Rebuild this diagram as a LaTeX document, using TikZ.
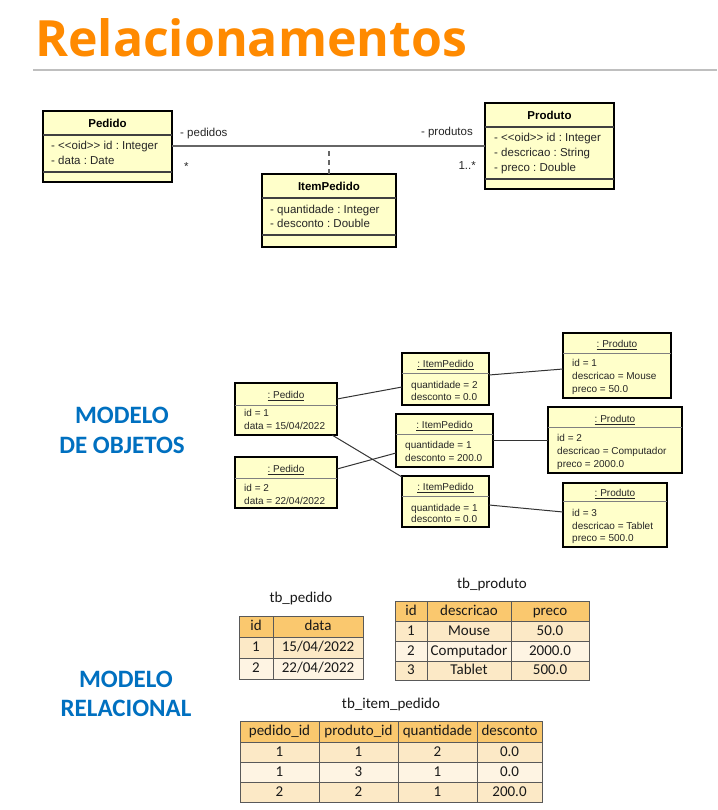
\documentclass[tikz,border=0pt]{standalone}
\usepackage{fontspec}
\setmainfont{Liberation Sans}
\newfontfamily\titlefont{Open Sans}
\newfontfamily\calfont{Carlito}
\usetikzlibrary{calc}
\definecolor{orangeT}{HTML}{FF8A00}
\definecolor{blueT}{HTML}{0070C0}
\definecolor{umlfill}{HTML}{FFFFCA}
\definecolor{thdr}{HTML}{FAC86E}
\definecolor{trowA}{HTML}{FCE9C6}
\definecolor{trowB}{HTML}{FEF4E3}
\newcommand{\ltlt}{<\kern0pt<}
\newcommand{\gtgt}{>\kern0pt>}
\newcommand{\tcell}[7]{\node[tcell,#6,minimum width={#4-#2},minimum height={#5-#3},anchor=north west] (#1) at (#2,#3) {#7};}
\frenchspacing
\begin{document}
\begin{tikzpicture}[x=1pt,y=-1pt,
 cbox/.style={draw=black, line width=2pt, fill=umlfill, inner sep=0pt, outer sep=0pt},
 obox/.style={draw=black, line width=1.8pt, fill=umlfill, inner sep=0pt, outer sep=0pt},
 chdr/.style={font=\fontsize{11.5}{13}\selectfont\bfseries, inner sep=0pt, anchor=base},
 cattr/.style={font=\fontsize{11.5}{13}\selectfont, inner sep=0pt, anchor=base west, text=black!85},
 ohdr/.style={font=\fontsize{10}{12}\selectfont, inner sep=0pt, anchor=base, text=black!85},
 oattr/.style={font=\fontsize{10}{12}\selectfont, inner sep=0pt, anchor=base west, text=black!85},
 csep/.style={draw=black!75, line width=1.2pt},
 osep/.style={draw=black!50, line width=0.8pt},
 assoc/.style={draw=black!60, line width=1.2pt},
 link/.style={draw=black!80, line width=1pt},
 mtxt/.style={font=\calfont\bfseries\fontsize{25}{30}\selectfont, text=blueT, anchor=base, inner sep=0pt},
 ttitle/.style={font=\calfont\fontsize{15}{18}\selectfont, text=black!90, anchor=base, inner sep=0pt},
 tcell/.style={draw=black!65, line width=0.7pt, inner sep=0pt, outer sep=0pt, font=\calfont\fontsize{15}{18}\selectfont, text height=9.5pt, text depth=1pt, text=black!90},
 th/.style={fill=thdr},
 ta/.style={fill=trowA},
 tb/.style={fill=trowB}
]
\fill[white] (0,0) rectangle (717,810);
\useasboundingbox (0,0) rectangle (717,810);

% title
\node[font=\titlefont\bfseries\fontsize{50}{60}\selectfont, text=orangeT, anchor=base west, inner sep=0pt] (title) at (35,57) {Relacionamentos};
\draw[line width=1.5pt, draw=black!25] (33,70) -- (717,70);

% ---------- class diagram ----------
\node[cbox, minimum width=129, minimum height=71, anchor=north west] (pedido) at (43,111) {};
\node[chdr] (pedidoH) at (107.5,128) {Pedido};
\draw[csep] (43,135) -- (172,135);
\node[cattr] (pedidoA1) at (51,150) {- \ltlt oid\gtgt{} id : Integer};
\node[cattr] (pedidoA2) at (51,165) {- data : Date};
\draw[csep] (43,172) -- (172,172);

\node[cbox, minimum width=129, minimum height=86, anchor=north west] (produto) at (485,103) {};
\node[chdr] (produtoH) at (549.5,120) {Produto};
\draw[csep] (485,127) -- (614,127);
\node[cattr] (produtoA1) at (494,142) {- \ltlt oid\gtgt{} id : Integer};
\node[cattr] (produtoA2) at (494,157) {- descricao : String};
\node[cattr] (produtoA3) at (494,172) {- preco : Double};
\draw[csep] (485,179) -- (614,179);

\node[cbox, minimum width=134, minimum height=73, anchor=north west] (itempedido) at (262,174) {};
\node[chdr] (itempedidoH) at (329,191) {ItemPedido};
\draw[csep] (262,198) -- (396,198);
\node[cattr] (itempedidoA1) at (270,214) {- quantidade : Integer};
\node[cattr] (itempedidoA2) at (270,228) {- desconto : Double};
\draw[csep] (262,235) -- (396,235);

\coordinate (a1) at ($(pedido.north east)+(0,35)$);
\draw[assoc] (a1) -- (a1 -| produto.west);
\draw[assoc, dash pattern=on 5pt off 4pt] (itempedido.north) -- (itempedido.north |- a1);
\node[cattr] (lpedidos) at (180,137) {- pedidos};
\node[cattr] (lstar) at (184,171) {*};
\node[cattr, anchor=base east] (lprodutos) at (473,136) {- produtos};
\node[cattr, anchor=base east] (lmult) at (476,170) {1..*};

% ---------- object diagram ----------
\node[mtxt] (m1) at (122,423) {MODELO};
\node[mtxt] (m2) at (122,453) {DE OBJETOS};

\node[obox, minimum width=102, minimum height=52, anchor=north west] (p1) at (235,383) {};
\node[ohdr] (p1H) at (286,398.5) {\underline{: Pedido}};
\draw[osep] (235,405) -- (337,405);
\node[oattr] (p1A1) at (244,416.5) {id = 1};
\node[oattr] (p1A2) at (244,429.5) {data = 15/04/2022};

\node[obox, minimum width=102, minimum height=51, anchor=north west] (p2) at (235,457) {};
\node[ohdr] (p2H) at (286,472.5) {\underline{: Pedido}};
\draw[osep] (235,478) -- (337,478);
\node[oattr] (p2A1) at (244,491.5) {id = 2};
\node[oattr] (p2A2) at (244,504.5) {data = 22/04/2022};

\node[obox, minimum width=87, minimum height=52, anchor=north west] (i1) at (402,353) {};
\node[ohdr] (i1H) at (445.5,367.5) {\underline{: ItemPedido}};
\draw[osep] (402,373) -- (489,373);
\node[oattr] (i1A1) at (411,388.5) {quantidade = 2};
\node[oattr] (i1A2) at (411,400.5) {desconto = 0.0};

\node[obox, minimum width=97, minimum height=53, anchor=north west] (i2) at (396,414) {};
\node[ohdr] (i2H) at (444.5,428.5) {\underline{: ItemPedido}};
\draw[osep] (396,434) -- (493,434);
\node[oattr] (i2A1) at (405,448.5) {quantidade = 1};
\node[oattr] (i2A2) at (405,461.5) {desconto = 200.0};

\node[obox, minimum width=87, minimum height=51, anchor=north west] (i3) at (402,476) {};
\node[ohdr] (i3H) at (445.5,490.5) {\underline{: ItemPedido}};
\draw[osep] (402,496) -- (489,496);
\node[oattr] (i3A1) at (411,511.5) {quantidade = 1};
\node[oattr] (i3A2) at (411,522.5) {desconto = 0.0};

\node[obox, minimum width=108, minimum height=65, anchor=north west] (pr1) at (563,333) {};
\node[ohdr] (pr1H) at (617,347.5) {\underline{: Produto}};
\draw[osep] (563,353) -- (671,353);
\node[oattr] (pr1A1) at (572,366.5) {id = 1};
\node[oattr] (pr1A2) at (572,379.5) {descricao = Mouse};
\node[oattr] (pr1A3) at (572,392.5) {preco = 50.0};

\node[obox, minimum width=134, minimum height=66, anchor=north west] (pr2) at (548,407) {};
\node[ohdr] (pr2H) at (615,422.5) {\underline{: Produto}};
\draw[osep] (548,427) -- (682,427);
\node[oattr] (pr2A1) at (557,441.5) {id = 2};
\node[oattr] (pr2A2) at (557,454.5) {descricao = Computador};
\node[oattr] (pr2A3) at (557,467.5) {preco = 2000.0};

\node[obox, minimum width=104, minimum height=64, anchor=north west] (pr3) at (563,483) {};
\node[ohdr] (pr3H) at (615,496.5) {\underline{: Produto}};
\draw[osep] (563,501) -- (667,501);
\node[oattr] (pr3A1) at (572,516.5) {id = 3};
\node[oattr] (pr3A2) at (572,529.5) {descricao = Tablet};
\node[oattr] (pr3A3) at (572,541.5) {preco = 500.0};

\draw[link] ($(p1.north east)+(0,16)$) -- ($(i1.north west)+(0,34)$);
\draw[link] ($(p1.south east)+(-5,0)$) -- ($(i3.north west)+(0,1)$);
\draw[link] ($(p2.north east)+(0,12)$) -- ($(i2.north west)+(0,39)$);
\draw[link] ($(i1.north east)+(0,22)$) -- ($(pr1.north west)+(0,36)$);
\draw[link] ($(i2.north east)+(0,26)$) -- ($(pr2.north west)+(0,33)$);
\draw[link] ($(i3.north east)+(0,29)$) -- ($(pr3.north west)+(0,29)$);

% ---------- relational model ----------
\node[mtxt] (m3) at (126,687) {MODELO};
\node[mtxt] (m4) at (126,716) {RELACIONAL};

\node[ttitle] (tpedT) at (301,602) {tb\_pedido};
\tcell{tpH1}{239}{616}{273}{637}{th}{id}
\tcell{tpH2}{273}{616}{363}{637}{th}{data}
\tcell{tp11}{239}{637}{273}{658}{ta}{1}
\tcell{tp12}{273}{637}{363}{658}{ta}{15/04/2022}
\tcell{tp21}{239}{658}{273}{679}{tb}{2}
\tcell{tp22}{273}{658}{363}{679}{tb}{22/04/2022}

\node[ttitle] (tprT) at (492,588) {tb\_produto};
\tcell{trH1}{395}{601}{427}{621}{th}{id}
\tcell{trH2}{427}{601}{511}{621}{th}{descricao}
\tcell{trH3}{511}{601}{589}{621}{th}{preco}
\tcell{tr11}{395}{621}{427}{641}{ta}{1}
\tcell{tr12}{427}{621}{511}{641}{ta}{Mouse}
\tcell{tr13}{511}{621}{589}{641}{ta}{50.0}
\tcell{tr21}{395}{641}{427}{661}{tb}{2}
\tcell{tr22}{427}{641}{511}{661}{tb}{Computador}
\tcell{tr23}{511}{641}{589}{661}{tb}{2000.0}
\tcell{tr31}{395}{661}{427}{680}{ta}{3}
\tcell{tr32}{427}{661}{511}{680}{ta}{Tablet}
\tcell{tr33}{511}{661}{589}{680}{ta}{500.0}

\node[ttitle] (tiT) at (391,708) {tb\_item\_pedido};
\tcell{tiH1}{240}{721}{319}{742}{th}{pedido\_id}
\tcell{tiH2}{319}{721}{398}{742}{th}{produto\_id}
\tcell{tiH3}{398}{721}{477}{742}{th}{quantidade}
\tcell{tiH4}{477}{721}{542}{742}{th}{desconto}
\tcell{ti11}{240}{742}{319}{762}{ta}{1}
\tcell{ti12}{319}{742}{398}{762}{ta}{1}
\tcell{ti13}{398}{742}{477}{762}{ta}{2}
\tcell{ti14}{477}{742}{542}{762}{ta}{0.0}
\tcell{ti21}{240}{762}{319}{782}{tb}{1}
\tcell{ti22}{319}{762}{398}{782}{tb}{3}
\tcell{ti23}{398}{762}{477}{782}{tb}{1}
\tcell{ti24}{477}{762}{542}{782}{tb}{0.0}
\tcell{ti31}{240}{782}{319}{802}{ta}{2}
\tcell{ti32}{319}{782}{398}{802}{ta}{2}
\tcell{ti33}{398}{782}{477}{802}{ta}{1}
\tcell{ti34}{477}{782}{542}{802}{ta}{200.0}
\end{tikzpicture}
\end{document}
